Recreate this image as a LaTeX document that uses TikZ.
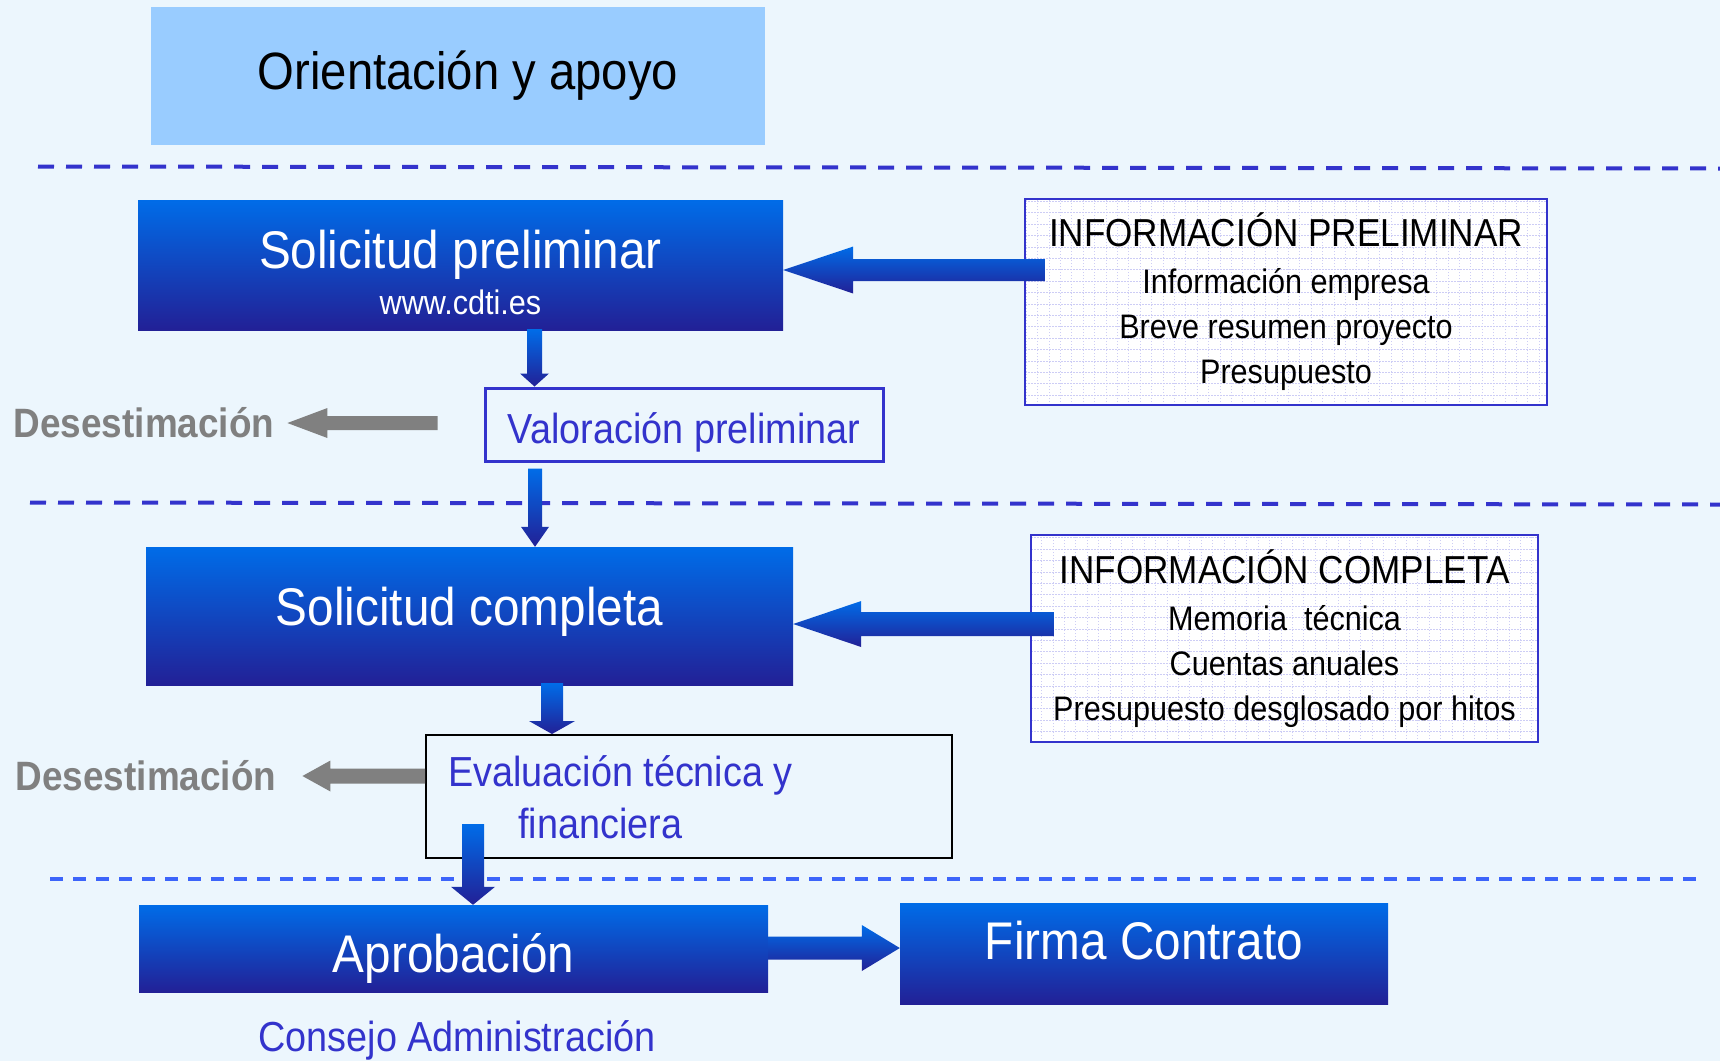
\documentclass[tikz,border=0pt]{standalone}
\usepackage{fontspec}
\setmainfont{Liberation Sans}[FakeStretch=0.9]
\usetikzlibrary{calc}

\definecolor{bgblue}{RGB}{236,246,253}
\definecolor{lightbox}{RGB}{153,204,255}
\definecolor{gradtop}{RGB}{0,108,232}
\definecolor{gradbot}{RGB}{34,32,150}
\definecolor{lineblue}{RGB}{51,51,204}
\definecolor{lineblue2}{RGB}{60,100,250}
\definecolor{gridblue}{RGB}{205,205,245}
\definecolor{greyarrow}{RGB}{128,128,128}

% block arrows: style, start, tip, half shaft, half head, head length
\newcommand{\blockarrowh}[6]{%
  \path[#1] let \p1=#2, \p2=#3 in
    (\x1,\y2+#4) -- (\x2+#6,\y2+#4) -- (\x2+#6,\y2+#5) -- (\x2,\y2)
    -- (\x2+#6,\y2-#5) -- (\x2+#6,\y2-#4) -- (\x1,\y2-#4) -- cycle;}
\newcommand{\blockarrowv}[6]{%
  \path[#1] let \p1=#2, \p2=#3 in
    (\x2-#4,\y1) -- (\x2+#4,\y1) -- (\x2+#4,\y2+#6) -- (\x2+#5,\y2+#6) -- (\x2,\y2)
    -- (\x2-#5,\y2+#6) -- (\x2-#4,\y2+#6) -- cycle;}

\tikzset{
  gradbox/.style={rectangle, top color=gradtop, bottom color=gradbot, text=white,
    align=center, font=\fontsize{53}{58}\selectfont},
  infobox/.style={rectangle, draw=lineblue, line width=2.5pt, fill=white, align=center,
    font=\fontsize{34}{45}\selectfont,
    path picture={\draw[gridblue, line width=1pt, dash pattern=on 1.5pt off 1.5pt, step=11.4pt]
      (path picture bounding box.south west) grid (path picture bounding box.north east);}},
  valbox/.style={rectangle, draw=lineblue, line width=3pt, text=lineblue,
    font=\fontsize{42}{46}\selectfont},
  evalbox/.style={rectangle, draw=black, line width=2pt},
  bluetext/.style={inner sep=0pt, text=lineblue, font=\fontsize{42}{52}\selectfont},
  greytext/.style={inner sep=0pt, text=greyarrow, font=\fontsize{41}{46}\bfseries\selectfont},
  gradarrow/.style={top color=gradtop, bottom color=gradbot},
  greyarr/.style={fill=greyarrow},
  sepline/.style={lineblue, line width=4pt, dash pattern=on 16pt off 12pt},
  sepline2/.style={lineblue2, line width=3.5pt, dash pattern=on 13pt off 10pt}
}

\begin{document}
\begin{tikzpicture}[x=1pt,y=-1pt]
\useasboundingbox (0,0) rectangle (1720,1061);
\fill[bgblue] (0,0) rectangle (1720,1061);

% separators
\draw[sepline] (38,166.5) -- (1720,168.5);
\draw[sepline] (30,502.5) -- (1720,504.5);
\draw[sepline2] (50,879) -- (1698,879);

% top
\node[rectangle, fill=lightbox, minimum width=614, minimum height=138,
  font=\fontsize{52.5}{58}\selectfont] (orient) at (458,76) {\hspace*{20pt}Orientación y apoyo};

% stage 1
\node[gradbox, minimum width=645, minimum height=130, text height=98pt, text depth=0pt]
  (spre) at (460.5,265) {Solicitud preliminar\\[-12pt]{\fontsize{34}{46}\selectfont www.cdti.es}};
\node[infobox, minimum width=522, minimum height=206] (ipre) at (1286,302)
  {{\fontsize{39}{45}\selectfont INFORMACIÓN PRELIMINAR}\\[2pt]
   Información empresa\\Breve resumen proyecto\\Presupuesto};
\node[valbox, minimum width=398, minimum height=73, text height=37pt, text depth=0pt] (val) at (684,424.5)
  {Valoración preliminar};
\node[greytext] (des1) at (144,423) {Desestimación};

% stage 2
\node[gradbox, minimum width=647, minimum height=138, text height=38.7pt, text depth=20.7pt]
  (scom) at (469.5,616) {Solicitud completa};
\node[infobox, minimum width=507, minimum height=207] (icom) at (1284.5,638.5)
  {{\fontsize{39}{45}\selectfont INFORMACIÓN COMPLETA}\\[2pt]
   Memoria\ \ técnica\\Cuentas anuales\\Presupuesto desglosado por hitos};
\node[evalbox, minimum width=526, minimum height=123] (eval) at (689,796.5) {};
\node[bluetext, align=left, anchor=west] (evaltxt) at (448,797)
  {Evaluación técnica y\\\hspace*{70pt}financiera};
\node[greytext] (des2) at (146,776) {Desestimación};

% stage 3
\node[gradbox, minimum width=629, minimum height=87, text height=48pt, text depth=0pt]
  (apro) at (453.5,948.5) {Aprobación};
\node[gradbox, minimum width=488, minimum height=101, text depth=25.7pt]
  (firma) at (1144,953.5) {Firma Contrato};
\node[bluetext] (consejo) at (457,1040) {Consejo Administración};

% arrows
\blockarrowh{gradarrow}{([xshift=21pt]ipre.west)}{([yshift=-5pt]spre.east)}{11}{23.5}{70}
\blockarrowh{gradarrow}{([xshift=24pt]icom.west)}{([yshift=-8pt]scom.east)}{12}{23}{68}
\blockarrowh{greyarr}{([xshift=-46pt]val.west)}{([xshift=13pt]des1.east)}{7}{15}{40}
\blockarrowh{greyarr}{(eval.west)}{([xshift=26pt]des2.east)}{7.5}{15.5}{28}
\blockarrowh{gradarrow}{(apro.east)}{([yshift=5.5pt]firma.west)}{11.5}{23}{-38}
\blockarrowv{gradarrow}{([yshift=1pt]spre.south)}{([xshift=-149.5pt]val.north)}{7.5}{14.5}{13}
\blockarrowv{gradarrow}{([yshift=-6pt]val.south)}{([xshift=65.5pt]scom.north)}{7}{14}{20}
\blockarrowv{gradarrow}{([yshift=2pt]scom.south)}{([xshift=-137pt]eval.north)}{11}{23}{13}
\blockarrowv{gradarrow}{([yshift=35pt]eval.south)}{([xshift=19.5pt]apro.north)}{11}{22}{18}
\end{tikzpicture}
\end{document}
